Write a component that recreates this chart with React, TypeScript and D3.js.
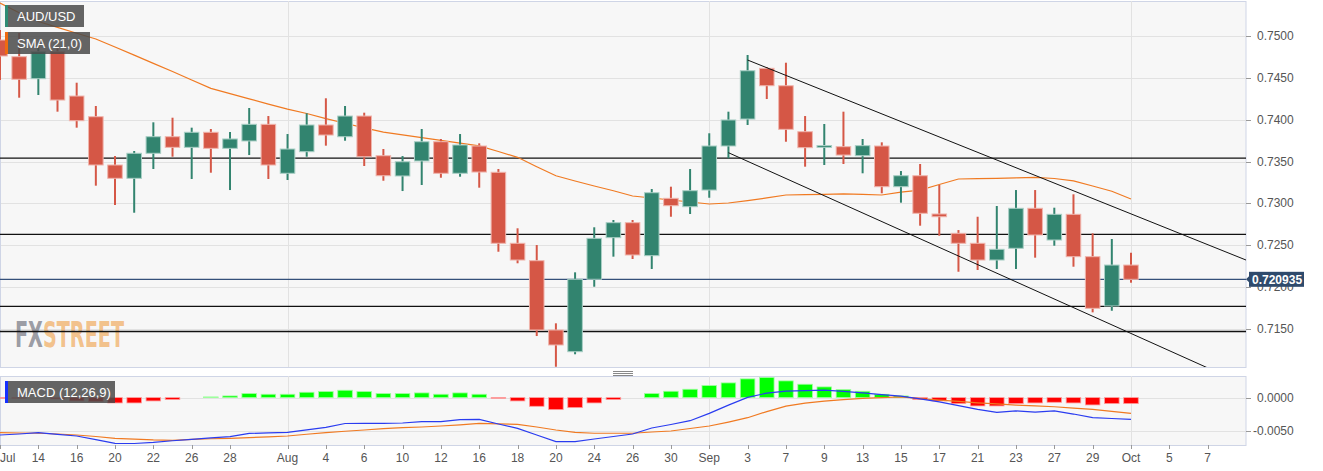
import React from 'react';
import * as d3 from 'd3';

// ── data (trading-day index 0 = Jul 12) ─────────────────────────────────────
const OPEN = [0.74952, 0.74753, 0.74490, 0.74812, 0.74283, 0.74036, 0.73459, 0.73300, 0.73599, 0.73797,
  0.73670, 0.73850, 0.73658, 0.73746, 0.73945, 0.73360, 0.73618, 0.73937, 0.73797, 0.74044,
  0.73570, 0.73328, 0.73507, 0.73737, 0.73360, 0.73686, 0.73372, 0.72524, 0.72316, 0.71488,
  0.71229, 0.72094, 0.72591, 0.72770, 0.72376, 0.73061, 0.72961, 0.73160, 0.73686, 0.74008,
  0.74614, 0.74406, 0.73857, 0.73670, 0.73678, 0.73570, 0.73686, 0.73200, 0.73331, 0.72874,
  0.72643, 0.72524, 0.72324, 0.72464, 0.72942, 0.72563, 0.72870, 0.72364, 0.71775, 0.72264];
const HIGH = [0.75072, 0.75036, 0.74872, 0.74853, 0.74442, 0.74164, 0.73566, 0.73626, 0.73969, 0.74024,
  0.73905, 0.73889, 0.73853, 0.74140, 0.74044, 0.73829, 0.74077, 0.74256, 0.74164, 0.74084,
  0.73650, 0.73566, 0.73889, 0.73770, 0.73829, 0.73718, 0.73411, 0.72703, 0.72503, 0.71568,
  0.72177, 0.72715, 0.72802, 0.72802, 0.73172, 0.73200, 0.73411, 0.73838, 0.74096, 0.74773,
  0.74630, 0.74681, 0.74044, 0.73949, 0.74096, 0.73770, 0.73730, 0.73387, 0.73471, 0.73220,
  0.72682, 0.72841, 0.72969, 0.73160, 0.73160, 0.72949, 0.73109, 0.72643, 0.72575, 0.72411];
const LOW = [0.74474, 0.74263, 0.74295, 0.74096, 0.73905, 0.73212, 0.72981, 0.72889, 0.73411, 0.73558,
  0.73292, 0.73367, 0.73160, 0.73578, 0.73292, 0.73280, 0.73558, 0.73690, 0.73749, 0.73447,
  0.73271, 0.73148, 0.73220, 0.73307, 0.73319, 0.73188, 0.72423, 0.72285, 0.71416, 0.71049,
  0.71198, 0.72005, 0.72364, 0.72336, 0.72217, 0.72841, 0.72874, 0.73068, 0.73539, 0.73937,
  0.74247, 0.73737, 0.73439, 0.73459, 0.73471, 0.73360, 0.73121, 0.73009, 0.72734, 0.72614,
  0.72184, 0.72205, 0.72217, 0.72217, 0.72352, 0.72495, 0.72244, 0.71699, 0.71718, 0.72053];
const CLOSE = [0.74761, 0.74483, 0.74812, 0.74235, 0.73988, 0.73459, 0.73300, 0.73599, 0.73797, 0.73670,
  0.73850, 0.73658, 0.73770, 0.73945, 0.73459, 0.73650, 0.73937, 0.73817, 0.74044, 0.73558,
  0.73331, 0.73498, 0.73737, 0.73360, 0.73698, 0.73375, 0.72524, 0.72324, 0.71488, 0.71309,
  0.72094, 0.72583, 0.72770, 0.72384, 0.73128, 0.72973, 0.73152, 0.73686, 0.73997, 0.74585,
  0.74406, 0.73885, 0.73666, 0.73692, 0.73578, 0.73690, 0.73200, 0.73331, 0.72882, 0.72841,
  0.72524, 0.72324, 0.72452, 0.72942, 0.72623, 0.72870, 0.72364, 0.71747, 0.72264, 0.720935];
const SMA21 = [0.75394, 0.75277, 0.75173, 0.75103, 0.75033, 0.74964, 0.74869, 0.74771, 0.74673, 0.74576,
  0.74474, 0.74375, 0.74312, 0.74249, 0.74186, 0.74126, 0.74074, 0.74013, 0.73958, 0.73903,
  0.73852, 0.73820, 0.73786, 0.73754, 0.73721, 0.73687, 0.73620, 0.73551, 0.73439, 0.73331,
  0.73268, 0.73208, 0.73152, 0.73089, 0.73065, 0.73041, 0.73017, 0.72993, 0.73005, 0.73034,
  0.73066, 0.73101, 0.73104, 0.73108, 0.73113, 0.73107, 0.73101, 0.73136, 0.73160, 0.73226,
  0.73292, 0.73297, 0.73300, 0.73306, 0.73311, 0.73298, 0.73270, 0.73208, 0.73145, 0.73053];
const MACD = [-0.0056, -0.00545, -0.00525, -0.0055, -0.00575, -0.0063, -0.00684, -0.00687, -0.0067, -0.00646,
  -0.00624, -0.00604, -0.00585, -0.00537, -0.00527, -0.0052, -0.00482, -0.00445, -0.00388, -0.00385,
  -0.00385, -0.0038, -0.00361, -0.00361, -0.0033, -0.00325, -0.00395, -0.0046, -0.0056, -0.0066,
  -0.0066, -0.0062, -0.00582, -0.00545, -0.00455, -0.00403, -0.00346, -0.00236, -0.00112, 0.00003,
  0.00067, 0.00097, 0.00104, 0.00112, 0.00093, 0.00072, 0.00045, 0.00022, -0.0002, -0.00063,
  -0.0012, -0.00176, -0.0022, -0.002, -0.00216, -0.002, -0.00246, -0.003, -0.00313, -0.00325];
const SIGNAL = [-0.00525, -0.0053, -0.00534, -0.00545, -0.0056, -0.00582, -0.00609, -0.00622, -0.00634, -0.00639,
  -0.00624, -0.00616, -0.00609, -0.006, -0.00587, -0.00575, -0.00549, -0.00525, -0.00504, -0.00485,
  -0.00464, -0.0045, -0.0044, -0.00425, -0.00407, -0.00385, -0.00392, -0.004, -0.0044, -0.00485,
  -0.0052, -0.00534, -0.00534, -0.00534, -0.00515, -0.005, -0.00463, -0.00425, -0.00366, -0.00301,
  -0.00209, -0.00127, -0.00082, -0.00052, -0.0003, -0.00012, 0, 0.00012, -0.00015, -0.00037,
  -0.00057, -0.00078, -0.00094, -0.00112, -0.00124, -0.00137, -0.00157, -0.00176, -0.00206, -0.00236];
const HIST = [-0.0001, -0.0001, 0, -0.0002, -0.0005, -0.0006, -0.0008, -0.0008, -0.0005, -0.0003,
  0, 0.0001, 0.00025, 0.0006, 0.0005, 0.0005, 0.0008, 0.0009, 0.0011, 0.0009,
  0.0006, 0.0006, 0.0007, 0.0005, 0.0007, 0.0005, -0.0001, -0.0005, -0.0013, -0.0018,
  -0.0015, -0.0008, -0.0003, 0, 0.0006, 0.00095, 0.00125, 0.0018, 0.0022, 0.0028,
  0.0030, 0.0025, 0.0020, 0.0016, 0.0012, 0.00095, 0.0005, 0.00025, -0.0003, -0.0005,
  -0.0009, -0.00125, -0.00125, -0.0009, -0.0008, -0.0007, -0.0008, -0.0011, -0.0009, -0.0009];

const X_TICKS: [number, string][] = [
  [0, 'Jul'], [2, '14'], [4, '16'], [6, '20'], [8, '22'], [10, '26'], [12, '28'], [15, 'Aug'],
  [17, '4'], [19, '6'], [21, '10'], [23, '12'], [25, '16'], [27, '18'], [29, '20'], [31, '24'],
  [33, '26'], [35, '30'], [37, 'Sep'], [39, '3'], [41, '7'], [43, '9'], [45, '13'], [47, '15'],
  [49, '17'], [51, '21'], [53, '23'], [55, '27'], [57, '29'], [59, 'Oct'], [61, '5'], [63, '7'],
];
const MONTH_STARTS = [15, 37, 59];
const PRICE_TICKS = [0.715, 0.72, 0.725, 0.73, 0.735, 0.74, 0.745, 0.75];
const MACD_TICKS = [0, -0.005];
const LEVELS = [0.7354, 0.7263, 0.7177, 0.7147];
const LAST_PRICE = 0.720935;
const TRENDLINES: [number, number, number, number][] = [
  [39, 0.74713, 65, 0.72324],
  [38, 0.73606, 65, 0.70830],
];

// ── layout ───────────────────────────────────────────────────────────────────
const W = 1323, H = 471;
const PR = 1246;
const M_TOP = 1, M_BOT = 367, D_TOP = 376, D_BOT = 445;
const FONT = '"Liberation Sans", Arial, sans-serif';
const UP = '#32846f', DOWN = '#d55746';

export default function App() {
  const x = d3.scaleLinear().domain([0, 65]).range([0, PR]);
  const y = d3.scaleLinear().domain([0.710461, 0.754181]).range([M_BOT, M_TOP]);
  const ym = d3.scaleLinear().domain([-0.007096, 0.003234]).range([D_BOT, D_TOP]);
  const step = x(1) - x(0);
  const bw = step * 0.76;

  const smaLine = d3.line<number>().x((_, i) => x(i)).y(d => y(d))(SMA21) || '';
  const macdLine = d3.line<number>().x((_, i) => x(i)).y(d => ym(d))(MACD) || '';
  const sigLine = d3.line<number>().x((_, i) => x(i)).y(d => ym(d))(SIGNAL) || '';

  const axisText = { fontFamily: FONT, fontSize: 12, fill: '#555' };

  return (
    <svg width={W} height={H} style={{ display: 'block', background: '#fff' }}>
      <style>{`body{margin:0}`}</style>
      <defs>
        <clipPath id="mainClip"><rect x={0} y={M_TOP} width={PR} height={M_BOT - M_TOP} /></clipPath>
        <clipPath id="macdClip"><rect x={0} y={D_TOP} width={PR} height={D_BOT - D_TOP} /></clipPath>
      </defs>

      {/* panels */}
      <rect x={0.5} y={M_TOP + 0.5} width={PR - 0.5} height={M_BOT - M_TOP} fill="#f7f7f7" stroke="#cfd5e6" />
      <rect x={0.5} y={D_TOP + 0.5} width={PR - 0.5} height={D_BOT - D_TOP} fill="#f7f7f7" stroke="#cfd5e6" />

      {/* grid */}
      {PRICE_TICKS.map(t => (
        <line key={t} x1={1} x2={PR} y1={Math.round(y(t)) + 0.5} y2={Math.round(y(t)) + 0.5} stroke="#e2e2e2" />
      ))}
      {MACD_TICKS.map(t => (
        <line key={t} x1={1} x2={PR} y1={Math.round(ym(t)) + 0.5} y2={Math.round(ym(t)) + 0.5} stroke="#e2e2e2" />
      ))}
      {MONTH_STARTS.map(i => (
        <g key={i}>
          <line x1={Math.round(x(i)) + 0.5} x2={Math.round(x(i)) + 0.5} y1={M_TOP} y2={M_BOT} stroke="#e2e2e2" />
          <line x1={Math.round(x(i)) + 0.5} x2={Math.round(x(i)) + 0.5} y1={D_TOP} y2={D_BOT} stroke="#e2e2e2" />
        </g>
      ))}

      {/* watermark */}
      <text x={15} y={347} fontFamily='"Liberation Sans Narrow", "DejaVu Sans Condensed", sans-serif' fontWeight="bold"
        fontSize={35} textLength={109} lengthAdjust="spacingAndGlyphs">
        <tspan fill="#8f919a" fillOpacity={0.9}>FX</tspan>
        <tspan fill="#f2bb7e" fillOpacity={0.9}>STREET</tspan>
      </text>

      <g clipPath="url(#mainClip)">
        {/* horizontal levels */}
        {LEVELS.map(l => (
          <line key={l} x1={0} x2={PR} y1={y(l)} y2={y(l)} stroke="#111" strokeWidth={1.3} />
        ))}
        <line x1={0} x2={PR} y1={y(LAST_PRICE)} y2={y(LAST_PRICE)} stroke="#34507a" strokeWidth={1.2} />

        {/* SMA */}
        <path d={smaLine} fill="none" stroke="#f07a22" strokeWidth={1.2} />

        {/* candles */}
        {OPEN.map((o, i) => {
          const c = CLOSE[i];
          const up = c >= o;
          const col = up ? UP : DOWN;
          const top = y(Math.max(o, c));
          const h = Math.max(1.5, y(Math.min(o, c)) - top);
          return (
            <g key={i}>
              <line x1={x(i)} x2={x(i)} y1={y(HIGH[i])} y2={y(LOW[i])} stroke={col} strokeWidth={2} />
              <rect x={x(i) - bw / 2} y={top} width={bw} height={h} fill={col}
                stroke={up ? '#a9cfc5' : '#f0b5ad'} strokeWidth={1} />
            </g>
          );
        })}

        {/* trend channel */}
        {TRENDLINES.map(([i0, p0, i1, p1], k) => (
          <line key={k} x1={x(i0)} y1={y(p0)} x2={x(i1)} y2={y(p1)} stroke="#111" strokeWidth={1} />
        ))}
      </g>

      {/* MACD panel */}
      <g clipPath="url(#macdClip)">
        {HIST.map((v, i) => {
          if (v === 0) return null;
          const y0 = ym(0), y1 = ym(v);
          return (
            <rect key={i} x={x(i) - bw / 2} y={Math.min(y0, y1)} width={bw} height={Math.abs(y1 - y0)}
              fill={v > 0 ? '#00ff00' : '#ff0000'} stroke={v > 0 ? '#9dff9d' : '#ff9d9d'} strokeWidth={0.8} />
          );
        })}
        <path d={sigLine} fill="none" stroke="#f07a22" strokeWidth={1.2} />
        <path d={macdLine} fill="none" stroke="#2a3cf0" strokeWidth={1.2} />
      </g>

      {/* drag handle */}
      {[371, 373, 375].map(v => (
        <line key={v} x1={613} x2={633} y1={v + 0.5} y2={v + 0.5} stroke="#888" />
      ))}

      {/* right axis */}
      {PRICE_TICKS.map(t => (
        <g key={t}>
          <line x1={PR} x2={PR + 5} y1={Math.round(y(t)) + 0.5} y2={Math.round(y(t)) + 0.5} stroke="#999" />
          <text x={PR + 11} y={y(t) + 4} {...axisText}>{t.toFixed(4)}</text>
        </g>
      ))}
      {MACD_TICKS.map(t => (
        <g key={t}>
          <line x1={PR} x2={PR + 5} y1={Math.round(ym(t)) + 0.5} y2={Math.round(ym(t)) + 0.5} stroke="#999" />
          <text x={PR + (t < 0 ? 7 : 11)} y={ym(t) + 4} {...axisText}>{t.toFixed(4)}</text>
        </g>
      ))}

      {/* last price label */}
      <g>
        <path d={`M${PR} ${y(LAST_PRICE)} L${PR + 4} ${y(LAST_PRICE) - 4} L${PR + 4} ${y(LAST_PRICE) + 4} Z`} fill="#2e4a6c" />
        <rect x={PR + 3} y={y(LAST_PRICE) - 7.5} width={55} height={15} fill="#2e4a6c" />
        <text x={PR + 6} y={y(LAST_PRICE) + 4.5} fontFamily={FONT} fontSize={12} fontWeight="bold" fill="#fff">
          {LAST_PRICE.toFixed(6)}
        </text>
      </g>

      {/* bottom axis */}
      {X_TICKS.map(([i, t]) => (
        <g key={i}>
          <line x1={Math.round(x(i)) + 0.5} x2={Math.round(x(i)) + 0.5} y1={D_BOT} y2={D_BOT + 4} stroke="#999" />
          <text x={x(i) < 10 ? 0 : x(i)} y={462} textAnchor={x(i) < 10 ? 'start' : 'middle'} {...axisText}>{t}</text>
        </g>
      ))}

      {/* legends */}
      {[
        { label: 'AUD/USD', top: 5, w: 79, col: '#2e8b74' },
        { label: 'SMA (21,0)', top: 32, w: 85, col: '#f06a10' },
        { label: 'MACD (12,26,9)', top: 381, w: 110, col: '#1530ff' },
      ].map(l => (
        <g key={l.label}>
          <rect x={5} y={l.top} width={l.w} height={22} fill="#4a4a4a" fillOpacity={0.85} />
          <rect x={5} y={l.top} width={3} height={22} fill={l.col} />
          <text x={17} y={l.top + 16} fontFamily={FONT} fontSize={13} fill="#fff">{l.label}</text>
        </g>
      ))}
    </svg>
  );
}
